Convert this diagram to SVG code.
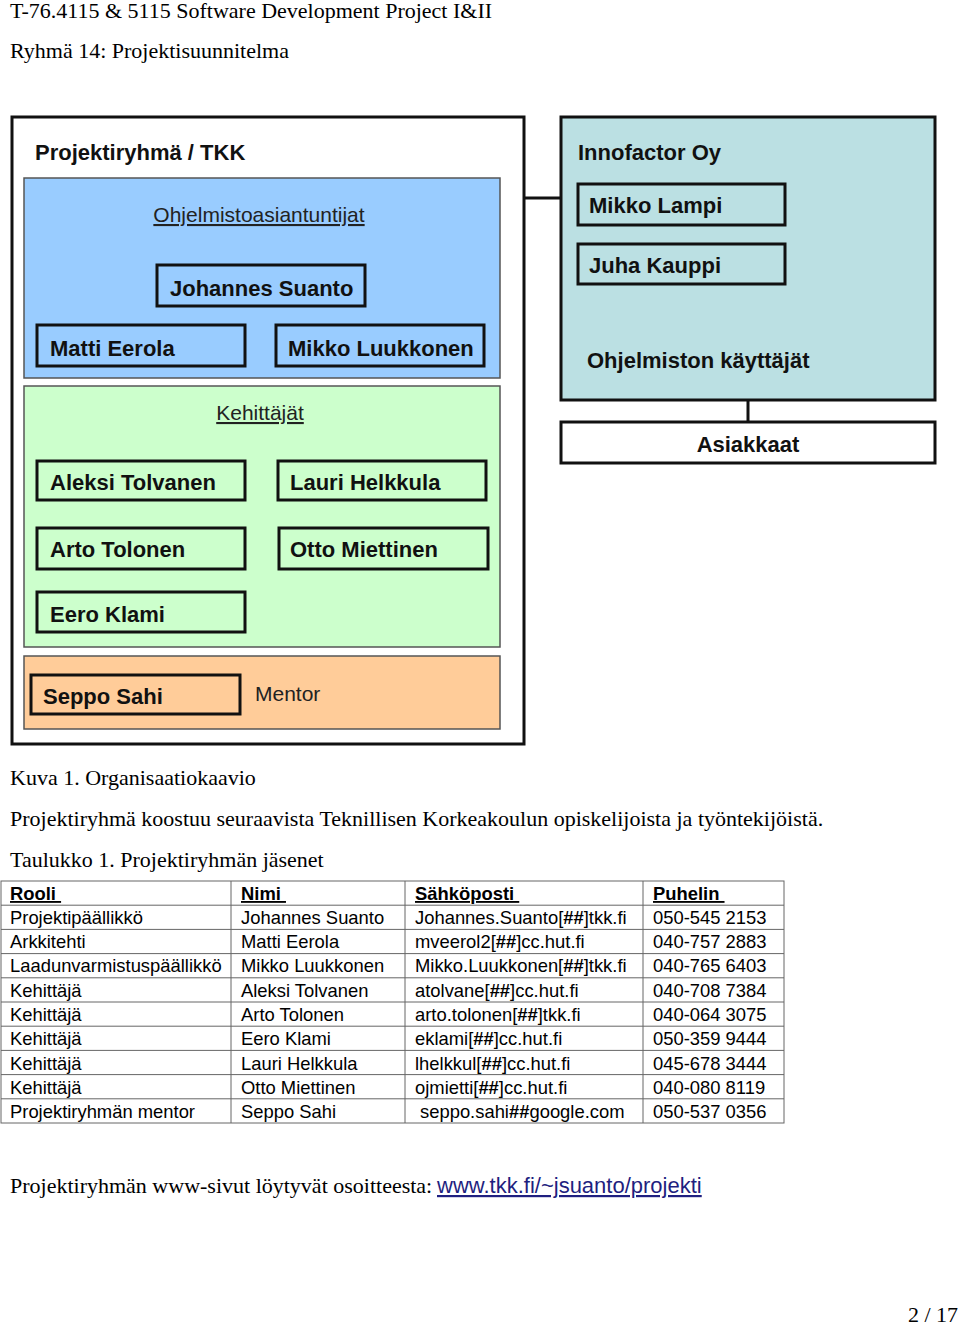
<svg xmlns="http://www.w3.org/2000/svg" width="960" height="1326" viewBox="0 0 960 1326">
<style>
.serif{font-family:"Liberation Serif","Times New Roman",serif;font-size:22px;fill:#000}
.title{font-family:"Liberation Sans",Arial,sans-serif;font-size:22px;font-weight:bold;fill:#111}
.name{font-family:"Liberation Sans",Arial,sans-serif;font-size:22px;font-weight:bold;fill:#111}
.sub{font-family:"Liberation Sans",Arial,sans-serif;font-size:21px;fill:#222}
.ul{text-decoration:underline}
.box{stroke:#111;stroke-width:3}
.grp{stroke:#555;stroke-width:1.5}
.tb{font-family:"Liberation Sans",Arial,sans-serif;font-size:18.4px;fill:#000}
.th{font-weight:bold;text-decoration:underline}
.grid{stroke:#666;stroke-width:1;fill:none}
.conn{stroke:#111;stroke-width:3;fill:none}
</style>
<rect width="960" height="1326" fill="#fff"/>
<text class="serif" x="10" y="18">T-76.4115 &amp; 5115 Software Development Project I&amp;II</text>
<text class="serif" x="10" y="58">Ryhmä 14: Projektisuunnitelma</text>

<g id="connectors">
<line class="conn" x1="524" y1="198" x2="561" y2="198"/>
<line class="conn" x1="748" y1="400" x2="748" y2="422"/>
</g>

<g id="projektiryhma">
<rect class="box" x="12" y="117" width="512" height="627" fill="#fff"/>
<text class="title" x="35" y="160">Projektiryhmä / TKK</text>
</g>

<g id="ohjelmistoasiantuntijat">
<rect class="grp" x="24" y="178" width="476" height="200" fill="#99ccff"/>
<text class="sub ul" x="259" y="222" text-anchor="middle">Ohjelmistoasiantuntijat</text>
</g>
<g id="johannes-suanto"><rect class="box" x="157" y="265" width="208" height="41" fill="#99ccff"/><text class="name" x="170" y="296">Johannes Suanto</text></g>
<g id="matti-eerola"><rect class="box" x="37" y="325" width="208" height="41" fill="#99ccff"/><text class="name" x="50" y="356">Matti Eerola</text></g>
<g id="mikko-luukkonen"><rect class="box" x="276" y="325" width="208" height="41" fill="#99ccff"/><text class="name" x="288" y="356">Mikko Luukkonen</text></g>

<g id="kehittajat">
<rect class="grp" x="24" y="386" width="476" height="261" fill="#ccffcc"/>
<text class="sub ul" x="260" y="420" text-anchor="middle">Kehittäjät</text>
</g>
<g id="aleksi-tolvanen"><rect class="box" x="37" y="461" width="208" height="39" fill="#ccffcc"/><text class="name" x="50" y="490">Aleksi Tolvanen</text></g>
<g id="lauri-helkkula"><rect class="box" x="278" y="461" width="208" height="39" fill="#ccffcc"/><text class="name" x="290" y="490">Lauri Helkkula</text></g>
<g id="arto-tolonen"><rect class="box" x="37" y="528" width="208" height="41" fill="#ccffcc"/><text class="name" x="50" y="557">Arto Tolonen</text></g>
<g id="otto-miettinen"><rect class="box" x="279" y="528" width="209" height="41" fill="#ccffcc"/><text class="name" x="290" y="557">Otto Miettinen</text></g>
<g id="eero-klami"><rect class="box" x="37" y="592" width="208" height="40" fill="#ccffcc"/><text class="name" x="50" y="622">Eero Klami</text></g>

<g id="mentor">
<rect class="grp" x="24" y="656" width="476" height="73" fill="#ffcc99"/>
<text class="sub" x="255" y="701" fill="#333">Mentor</text>
</g>
<g id="seppo-sahi"><rect class="box" x="31" y="675" width="209" height="39" fill="#ffcc99"/><text class="name" x="43" y="704">Seppo Sahi</text></g>

<g id="innofactor">
<rect class="box" x="561" y="117" width="374" height="283" fill="#bbe0e3"/>
<text class="title" x="578" y="160">Innofactor Oy</text>
<text class="name" x="587" y="368">Ohjelmiston käyttäjät</text>
</g>
<g id="mikko-lampi"><rect class="box" x="578" y="184" width="207" height="41" fill="#bbe0e3"/><text class="name" x="589" y="213">Mikko Lampi</text></g>
<g id="juha-kauppi"><rect class="box" x="578" y="244" width="207" height="40" fill="#bbe0e3"/><text class="name" x="589" y="273">Juha Kauppi</text></g>
<g id="asiakkaat"><rect class="box" x="561" y="422" width="374" height="41" fill="#fff"/><text class="name" x="748" y="452" text-anchor="middle">Asiakkaat</text></g>

<text class="serif" x="10" y="785">Kuva 1. Organisaatiokaavio</text>
<text class="serif" x="10" y="826">Projektiryhmä koostuu seuraavista Teknillisen Korkeakoulun opiskelijoista ja työntekijöistä.</text>
<text class="serif" x="10" y="867">Taulukko 1. Projektiryhmän jäsenet</text>

<g id="table">
<rect class="grid" x="1" y="881" width="783" height="242"/>
<g class="grid">
<line x1="231" y1="881" x2="231" y2="1123"/>
<line x1="405" y1="881" x2="405" y2="1123"/>
<line x1="643" y1="881" x2="643" y2="1123"/>
<line x1="1" y1="905.2" x2="784" y2="905.2"/>
<line x1="1" y1="929.4" x2="784" y2="929.4"/>
<line x1="1" y1="953.6" x2="784" y2="953.6"/>
<line x1="1" y1="977.8" x2="784" y2="977.8"/>
<line x1="1" y1="1002" x2="784" y2="1002"/>
<line x1="1" y1="1026.2" x2="784" y2="1026.2"/>
<line x1="1" y1="1050.4" x2="784" y2="1050.4"/>
<line x1="1" y1="1074.6" x2="784" y2="1074.6"/>
<line x1="1" y1="1098.8" x2="784" y2="1098.8"/>
</g>
<g class="tb">
<text class="th" x="10" y="900">Rooli&#160;</text>
<text class="th" x="241" y="900">Nimi&#160;</text>
<text class="th" x="415" y="900">Sähköposti&#160;</text>
<text class="th" x="653" y="900">Puhelin&#160;</text>

<text x="10" y="924">Projektipäällikkö</text>
<text x="241" y="924">Johannes Suanto</text>
<text x="415" y="924">Johannes.Suanto[<tspan font-weight="bold">##</tspan>]tkk.fi</text>
<text x="653" y="924">050-545 2153</text>

<text x="10" y="948">Arkkitehti</text>
<text x="241" y="948">Matti Eerola</text>
<text x="415" y="948">mveerol2[<tspan font-weight="bold">##</tspan>]cc.hut.fi</text>
<text x="653" y="948">040-757 2883</text>

<text x="10" y="972">Laadunvarmistuspäällikkö</text>
<text x="241" y="972">Mikko Luukkonen</text>
<text x="415" y="972">Mikko.Luukkonen[<tspan font-weight="bold">##</tspan>]tkk.fi</text>
<text x="653" y="972">040-765 6403</text>

<text x="10" y="997">Kehittäjä</text>
<text x="241" y="997">Aleksi Tolvanen</text>
<text x="415" y="997">atolvane[<tspan font-weight="bold">##</tspan>]cc.hut.fi</text>
<text x="653" y="997">040-708 7384</text>

<text x="10" y="1021">Kehittäjä</text>
<text x="241" y="1021">Arto Tolonen</text>
<text x="415" y="1021">arto.tolonen[<tspan font-weight="bold">##</tspan>]tkk.fi</text>
<text x="653" y="1021">040-064 3075</text>

<text x="10" y="1045">Kehittäjä</text>
<text x="241" y="1045">Eero Klami</text>
<text x="415" y="1045">eklami[<tspan font-weight="bold">##</tspan>]cc.hut.fi</text>
<text x="653" y="1045">050-359 9444</text>

<text x="10" y="1070">Kehittäjä</text>
<text x="241" y="1070">Lauri Helkkula</text>
<text x="415" y="1070">lhelkkul[<tspan font-weight="bold">##</tspan>]cc.hut.fi</text>
<text x="653" y="1070">045-678 3444</text>

<text x="10" y="1094">Kehittäjä</text>
<text x="241" y="1094">Otto Miettinen</text>
<text x="415" y="1094">ojmietti[<tspan font-weight="bold">##</tspan>]cc.hut.fi</text>
<text x="653" y="1094">040-080 8119</text>

<text x="10" y="1118">Projektiryhmän mentor</text>
<text x="241" y="1118">Seppo Sahi</text>
<text x="420" y="1118">seppo.sahi<tspan font-weight="bold">##</tspan>google.com</text>
<text x="653" y="1118">050-537 0356</text>
</g>
</g>

<text class="serif" x="10" y="1193">Projektiryhmän www-sivut löytyvät osoitteesta: </text>
<text x="437" y="1193" font-family="Liberation Sans,Arial,sans-serif" font-size="22" fill="#1f1f80" text-decoration="underline">www.tkk.fi/~jsuanto/projekti</text>
<text class="serif" x="958" y="1322" text-anchor="end">2 / 17</text>
</svg>
